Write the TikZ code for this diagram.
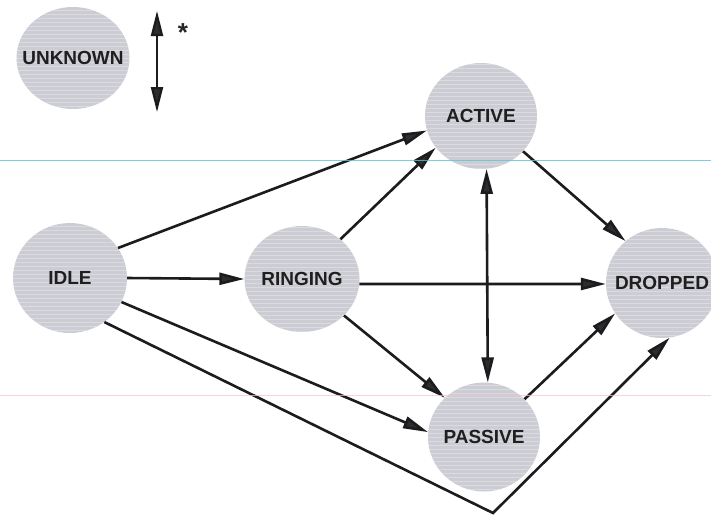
\documentclass[tikz,border=0pt]{standalone}
\usepackage{fontspec}
\setmainfont{Liberation Sans}
\usetikzlibrary{arrows.meta,shapes.geometric}

\definecolor{stateFill}{RGB}{204,204,212}
\definecolor{edgeInk}{RGB}{28,28,30}
\definecolor{tipInk}{RGB}{45,45,48}
\definecolor{ruleCyan}{RGB}{90,195,210}
\definecolor{rulePink}{RGB}{240,195,212}

\tikzset{stateTip/.tip={Triangle[length=25pt,width=12pt,fill=tipInk]}}
% state label set in a zero-width box so the disc keeps its own size
\newcommand{\stateName}[1]{\makebox[0pt][c]{#1}}

\begin{document}
\begin{tikzpicture}[x=1pt,y=-1pt,
  state/.style={ellipse, fill=stateFill, minimum width=113pt, minimum height=108pt,
    inner sep=0pt, text=black!88, font=\fontsize{19}{21}\selectfont\bfseries,
    path picture={\foreach \k in {-56,-52,...,56}
      \draw[white, opacity=0.28, line width=0.7pt]
        ([yshift=\k pt]path picture bounding box.west) -- ([yshift=\k pt]path picture bounding box.east);}},
  flow/.style={line width=2.6pt, draw=edgeInk, -{stateTip}},
  both/.style={line width=2.6pt, draw=edgeInk, {stateTip}-{stateTip}},
]
\useasboundingbox (0,0) rectangle (711,515);
\fill[white] (0,0) rectangle (711,515);

% states
\node[state, minimum width=113pt, minimum height=102pt] (unknown) at (73,58) {\stateName{UNKNOWN}};
\node[state, minimum width=114pt, minimum height=110pt] (idle) at (70,278) {\stateName{IDLE}};
\node[state, minimum width=115pt, minimum height=106pt] (ringing) at (302,279) {\stateName{RINGING}};
\node[state, minimum width=112pt, minimum height=106pt] (active) at (481,116) {\stateName{ACTIVE}};
\node[state, minimum width=112pt, minimum height=109pt] (passive) at (484,437) {\stateName{PASSIVE}};
\node[state, minimum width=112pt, minimum height=110pt] (dropped) at (662,283) {\stateName{DROPPED}};

% legend: two-way transition
\coordinate (legTop) at (157,11);
\coordinate (legBot) at (157,112);
\draw[both, line width=2.2pt] (legTop) -- (legBot);
\node[font=\fontsize{26}{26}\selectfont\bfseries, text=black!85] (legStar) at (183,33) {*};

% transitions
\draw[flow] (idle.32)   -- (active.195);
\draw[flow] (idle.0)    -- (ringing.180);
\draw[flow] (idle.-25)  -- (passive.175);
\coordinate (bend) at (493,513);
\draw[flow] (idle.-52) -- (bend) -- (dropped.-82);

\draw[flow] (ringing.46)  -- (active.215);
\draw[flow] (ringing.-5)  -- (dropped.181);
\draw[flow] (ringing.-41) -- (passive.135);

\draw[both] (active.-84) -- (passive.86);
\draw[flow] (active.-40)  -- (dropped.131);
\draw[flow] (passive.43)  -- (dropped.213);

% faint register lines across the sheet
\draw[ruleCyan, line width=1pt, opacity=0.8] (0,160.5) -- (711,160.5);
\draw[rulePink, line width=1pt, opacity=0.7] (0,395) -- (711,395);
\end{tikzpicture}
\end{document}
